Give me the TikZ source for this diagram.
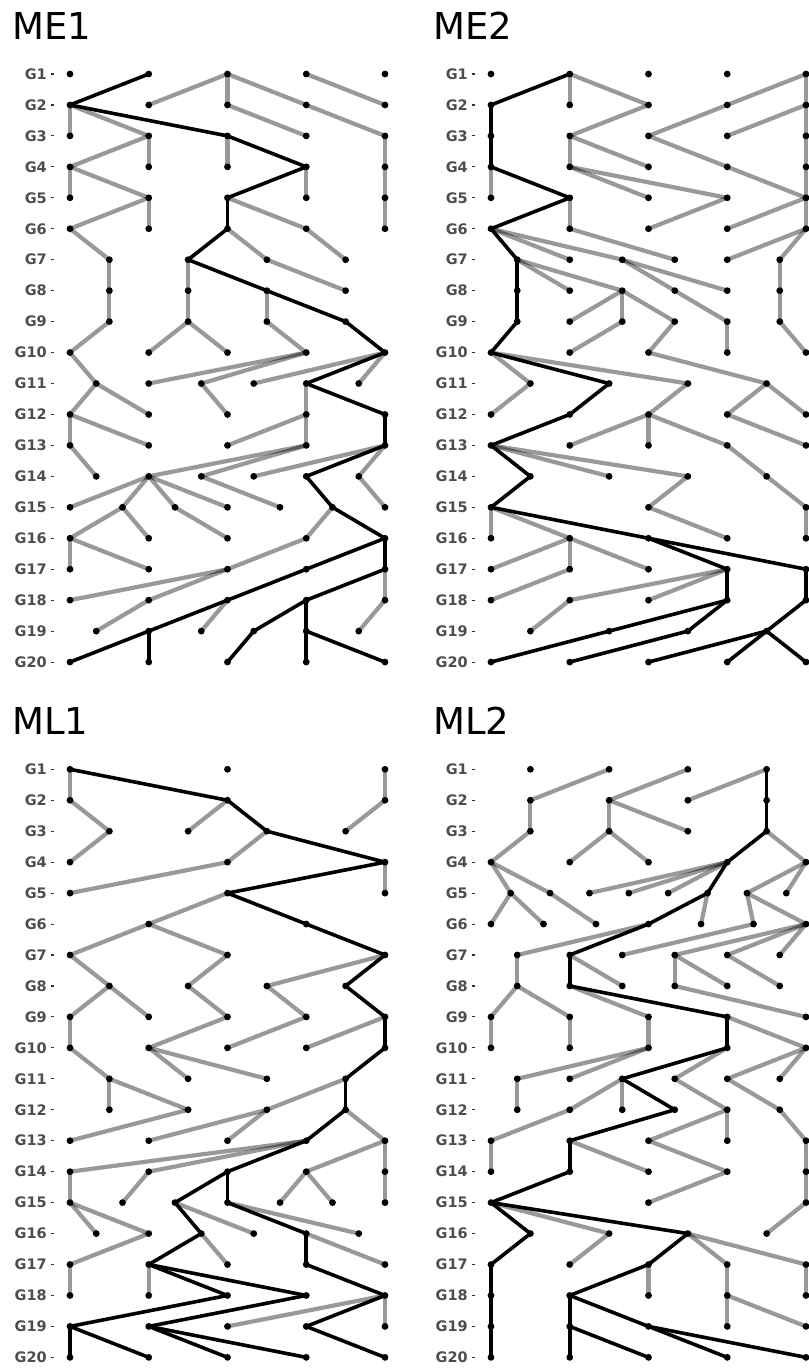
\documentclass[tikz,border=0pt]{standalone}
\usepackage{fontspec}
\setmainfont{DejaVu Sans}
\pgfdeclarelayer{bgfill}\pgfdeclarelayer{bg}\pgfdeclarelayer{mid}\pgfsetlayers{bgfill,bg,mid,main}
\definecolor{labgray}{HTML}{4D4D4D}
\definecolor{tickgray}{HTML}{333333}
\tikzset{
 dot/.style={circle, fill=black, inner sep=0pt, minimum size=6.8pt},
 gedge/.style={line width=4.2pt, draw=black, draw opacity=0.4},
 bedge/.style={line width=3.6pt, draw=black},
 lab/.style={font=\bfseries\fontsize{14.5}{17}\selectfont, text=labgray, inner sep=0pt, anchor=east},
 axtick/.style={draw=tickgray, line width=1.1pt},
 ttl/.style={font=\fontsize{37}{40}\selectfont, inner sep=0pt, anchor=base west},
}
\newcommand{\mypanel}[7]{%
  \node[ttl] (#1-title) at (#2-58, #3-35) {#4};
  \foreach \rr in {1,...,20} {
    \node[lab] (#1-lab-\rr) at (#2-23, {#3+(\rr-1)*30.95}) {G\rr};
    \draw[axtick] (#2-19.3, {#3+(\rr-1)*30.95}) -- (#2-16.3, {#3+(\rr-1)*30.95});
  }
  \foreach \rr/\cols in {#5} {
    \foreach \cc in \cols {
      \node[dot] (#1-\rr-\cc) at ({#2+\cc*6.5625}, {#3+(\rr-1)*30.95}) {};
    }
  }
  \begin{pgfonlayer}{bg}
  \foreach \rr/\pa/\ch in {#6} {
    \pgfmathtruncatemacro{\rn}{\rr+1}
    \draw[gedge] (#1-\rr-\pa.center) -- (#1-\rn-\ch.center);
  }
  \end{pgfonlayer}
  \begin{pgfonlayer}{mid}
  \foreach \rr/\pa/\ch in {#7} {
    \pgfmathtruncatemacro{\rn}{\rr+1}
    \draw[bedge] (#1-\rr-\pa.center) -- (#1-\rn-\ch.center);
  }
  \end{pgfonlayer}
}
\begin{document}
\begin{tikzpicture}[x=1pt,y=-1pt]
\useasboundingbox (0,0) rectangle (809,1369);
\begin{pgfonlayer}{bgfill}
\fill[white] (0,0) rectangle (809,1369);
\end{pgfonlayer}
% ---------------- ME1
\mypanel{a}{70}{74}{ME1}{%
1/{0,12,24,36,48},2/{0,12,24,36,48},3/{0,12,24,36,48},4/{0,12,24,36,48},5/{0,12,24,36,48},6/{0,12,24,36,48},
7/{6,18,30,42},8/{6,18,30,42},9/{6,18,30,42},10/{0,12,24,36,48},11/{4,12,20,28,36,44},
12/{0,12,24,36,48},13/{0,12,24,36,48},14/{4,12,20,28,36,44},15/{0,8,16,24,32,40,48},
16/{0,12,24,36,48},17/{0,12,24,36,48},18/{0,12,24,36,48},19/{4,12,20,28,36,44},20/{0,12,24,36,48}}{%
1/24/12,1/24/24,1/24/36,1/36/48,
2/0/0,2/0/12,2/24/36,2/36/48,
3/12/0,3/12/12,3/24/24,3/48/48,
4/0/0,4/0/12,4/36/36,4/48/48,
5/12/0,5/12/12,5/24/36,5/48/48,
6/0/6,6/24/30,6/36/42,
7/6/6,7/18/18,7/30/42,
8/6/6,8/18/18,8/30/30,
9/6/0,9/18/12,9/18/24,9/30/36,
10/0/4,10/36/12,10/36/20,10/48/28,10/48/44,
11/4/0,11/4/12,11/20/24,11/36/36,
12/0/0,12/0/12,12/36/24,12/36/36,
13/0/4,13/36/12,13/36/20,13/48/28,13/48/44,
14/12/0,14/12/8,14/12/16,14/12/24,14/20/32,14/44/48,
15/8/0,15/8/12,15/16/24,15/40/36,
16/0/0,16/0/12,16/36/24,
17/24/0,17/24/12,17/48/48,
18/12/4,18/24/20,18/48/44}{%
1/12/0,2/0/24,3/24/36,4/36/24,5/24/24,6/24/18,7/18/30,8/30/42,9/42/48,
10/48/36,11/36/48,12/48/48,13/48/36,14/36/40,15/40/48,
16/48/36,16/48/48,17/36/24,17/48/36,18/24/12,18/36/28,18/36/36,
19/12/0,19/12/12,19/28/24,19/36/36,19/36/48}
% ---------------- ME2
\mypanel{b}{491}{74}{ME2}{%
1/{0,12,24,36,48},2/{0,12,24,36,48},3/{0,12,24,36,48},4/{0,12,24,36,48},5/{0,12,24,36,48},6/{0,12,24,36,48},
7/{4,12,20,28,36,44},8/{4,12,20,28,36,44},9/{4,12,20,28,36,44},10/{0,12,24,36,48},11/{6,18,30,42},
12/{0,12,24,36,48},13/{0,12,24,36,48},14/{6,18,30,42},15/{0,24,48},
16/{0,12,24,36,48},17/{0,12,24,36,48},18/{0,12,24,36,48},19/{6,18,30,42},20/{0,12,24,36,48}}{%
1/12/12,1/12/24,1/48/36,1/48/48,
2/24/12,2/36/24,2/48/36,2/48/48,
3/12/12,3/12/24,3/24/36,3/48/48,
4/0/0,4/12/24,4/12/36,4/36/48,4/48/48,
5/12/12,5/36/24,5/48/36,5/48/48,
6/0/12,6/0/20,6/12/28,6/48/36,6/48/44,
7/4/12,7/4/20,7/20/28,7/20/36,7/44/44,
8/20/12,8/20/20,8/20/28,8/28/36,8/44/44,
9/20/12,9/28/24,9/36/36,9/44/48,
10/0/6,10/0/30,10/24/42,
11/6/0,11/30/24,11/42/36,11/42/48,
12/24/12,12/24/24,12/24/36,12/36/48,
13/0/18,13/0/30,13/36/42,
14/30/24,14/42/48,
15/0/0,15/0/12,15/24/36,15/48/48,
16/12/0,16/12/12,16/12/24,
17/12/0,17/36/12,17/36/24,
18/12/6}{%
1/12/0,2/0/0,3/0/0,4/0/12,5/12/0,6/0/4,7/4/4,8/4/4,9/4/0,
10/0/18,11/18/12,12/12/0,13/0/6,14/6/0,15/0/24,
16/24/36,16/24/48,17/36/36,17/48/48,18/36/18,18/36/30,18/48/42,
19/18/0,19/30/12,19/42/24,19/42/36,19/42/48}
% ---------------- ML1
\mypanel{c}{70}{769.3}{ML1}{%
1/{0,24,48},2/{0,24,48},3/{6,18,30,42},4/{0,24,48},5/{0,24,48},6/{12,36},7/{0,24,48},
8/{6,18,30,42},9/{0,12,24,36,48},10/{0,12,24,36,48},11/{6,18,30,42},12/{6,18,30,42},
13/{0,12,24,36,48},14/{0,12,24,36,48},15/{0,8,16,24,32,40,48},16/{4,12,20,28,36,44},
17/{0,12,24,36,48},18/{0,12,24,36,48},19/{0,12,24,36,48},20/{0,12,24,36,48}}{%
1/0/0,1/48/48,
2/0/6,2/24/18,2/48/42,
3/6/0,3/30/24,
4/24/0,4/48/48,
5/24/12,
6/12/0,6/12/24,
7/0/6,7/24/18,7/48/30,
8/6/0,8/6/12,8/18/24,8/30/36,
9/0/0,9/24/12,9/36/24,9/48/36,
10/0/6,10/12/18,10/12/30,
11/6/6,11/6/18,11/42/30,
12/18/0,12/30/12,12/30/24,12/42/48,
13/36/0,13/36/12,13/48/36,13/48/48,
14/0/0,14/12/8,14/36/32,14/36/40,14/48/48,
15/0/4,15/0/12,15/16/28,15/24/44,
16/12/0,16/20/24,16/36/48,
17/0/0,17/12/12,
18/48/24,18/48/48}{%
1/0/24,2/24/30,3/30/48,4/48/24,5/24/36,6/36/48,7/48/42,8/42/48,9/48/48,
10/48/42,11/42/42,12/42/36,13/36/24,14/24/16,14/24/24,15/16/20,15/24/36,
16/20/12,16/36/36,17/12/24,17/12/36,17/36/48,18/24/0,18/36/12,18/48/36,
19/0/0,19/0/12,19/12/24,19/12/36,19/36/48}
% ---------------- ML2
\mypanel{d}{491}{769.3}{ML2}{%
1/{6,18,30,42},2/{6,18,30,42},3/{6,18,30,42},4/{0,12,24,36,48},5/{3,9,15,21,27,33,39,45},
6/{0,8,16,24,32,40,48},7/{4,12,20,28,36,44},8/{4,12,20,28,36,44},9/{0,12,24,36,48},10/{0,12,24,36,48},
11/{4,12,20,28,36,44},12/{4,12,20,28,36,44},13/{0,12,24,36,48},14/{0,12,24,36,48},15/{0,24,48},
16/{6,18,30,42},17/{0,12,24,36,48},18/{0,12,24,36,48},19/{0,12,24,36,48},20/{0,12,24,36,48}}{%
1/18/6,1/30/18,1/42/30,
2/6/6,2/18/18,2/18/30,
3/6/0,3/18/12,3/18/24,3/42/48,
4/0/3,4/0/9,4/36/15,4/36/21,4/36/27,4/48/39,4/48/45,
5/3/0,5/3/8,5/9/16,5/33/32,5/39/40,5/39/48,
6/24/4,6/40/20,6/48/28,6/48/36,6/48/44,
7/4/4,7/12/20,7/28/28,7/28/36,7/36/44,
8/4/0,8/4/12,8/12/24,8/28/48,
9/0/0,9/12/12,9/24/24,9/36/48,
10/24/4,10/24/12,10/36/28,10/48/36,10/48/44,
11/4/4,11/20/12,11/20/20,11/28/36,11/36/44,
12/12/0,12/36/24,12/36/36,12/44/48,
13/0/0,13/12/24,13/24/36,13/48/48,
14/36/24,14/48/48,
15/0/18,15/48/42,
16/18/12,16/30/36,16/30/48,
17/24/24,17/36/36,17/48/48,
18/36/36,18/36/48}{%
1/42/42,2/42/42,3/42/36,4/36/33,5/33/24,6/24/12,7/12/12,8/12/36,9/36/36,
10/36/20,11/20/28,12/28/12,13/12/12,14/12/0,15/0/6,15/0/30,
16/6/0,16/30/24,17/0/0,17/24/12,18/0/0,18/12/12,18/12/24,
19/0/0,19/12/12,19/12/24,19/24/36,19/24/48}
\end{tikzpicture}
\end{document}
